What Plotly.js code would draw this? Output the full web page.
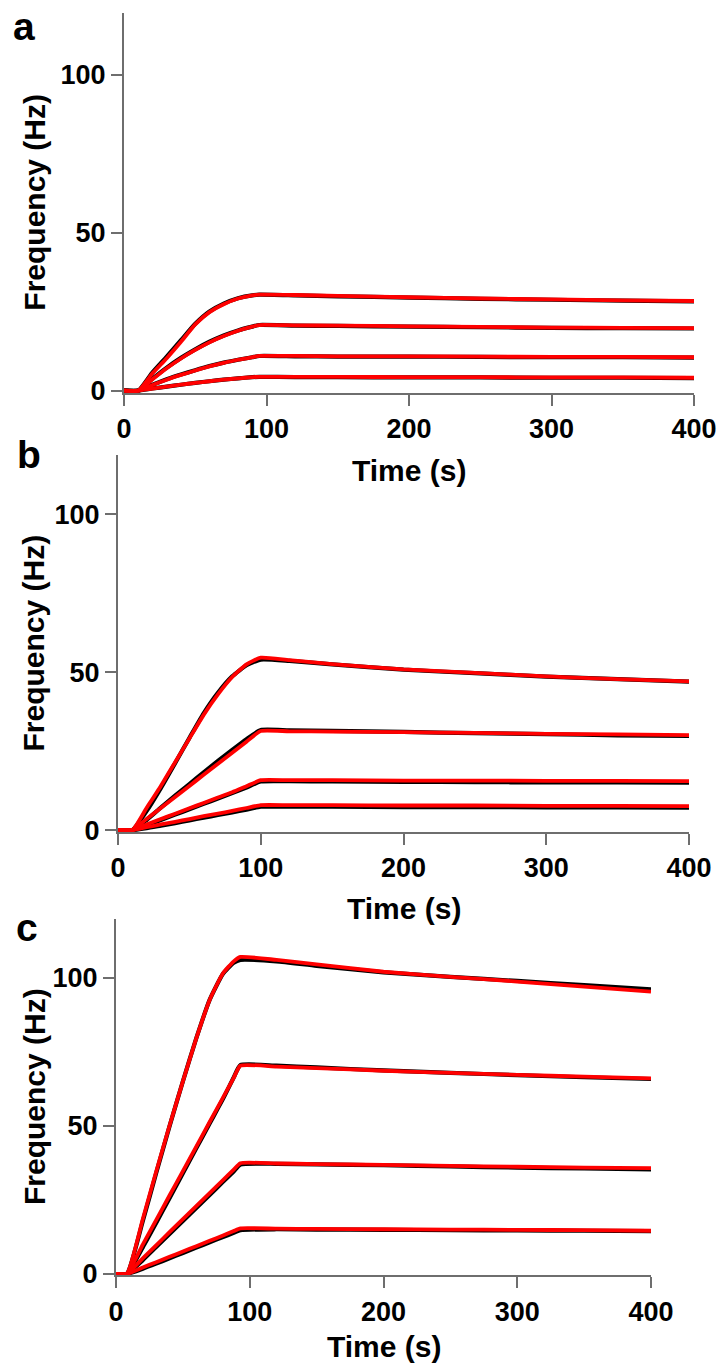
<!DOCTYPE html>
<html>
<head>
<meta charset="utf-8">
<script src="https://cdn.plot.ly/plotly-3.0.1.min.js"></script>
<style>html,body{margin:0;padding:0;background:#fff}#chart{width:727px;height:1370px}</style>
</head>
<body>
<div id="chart"></div>
<script>
// ---- Data ----
const panelLabels = ["a", "b", "c"];
const xTitle = "Time (s)";
const yTitle = "Frequency (Hz)";
const xTicks = [0, 100, 200, 300, 400];
const yTicks = [0, 50, 100];

// Panel a
const timeA = [0, 10, 20, 30, 40, 50, 60, 70, 80, 90, 95, 120, 150, 200, 250, 300, 350, 400];
const aExp1 = [0, 0, 5.8, 10.8, 16.0, 21.2, 25.1, 27.6, 29.3, 30.2, 30.4, 30.2, 29.9, 29.5, 29.1, 28.8, 28.5, 28.3];
const aExp2 = [0, 0, 3.8, 7.3, 10.4, 13.1, 15.5, 17.5, 19.1, 20.3, 20.8, 20.6, 20.5, 20.3, 20.1, 19.9, 19.8, 19.7];
const aExp3 = [0, 0, 1.9, 3.6, 5.1, 6.5, 7.8, 8.9, 9.8, 10.6, 11.0, 10.9, 10.8, 10.8, 10.7, 10.6, 10.6, 10.5];
const aExp4 = [0, 0, 0.7, 1.3, 1.9, 2.5, 3.0, 3.5, 3.9, 4.3, 4.4, 4.3, 4.3, 4.2, 4.2, 4.1, 4.1, 4.0];
const aFit1 = [0, 0, 5.5, 10.3, 15.5, 21.0, 24.9, 27.4, 29.2, 30.2, 30.4, 30.3, 30.0, 29.6, 29.2, 28.9, 28.6, 28.4];
const aFit2 = [0, 0, 3.6, 7.1, 10.2, 12.9, 15.3, 17.3, 19.0, 20.3, 20.8, 20.7, 20.6, 20.4, 20.2, 20.0, 19.9, 19.8];
const aFit3 = [0, 0, 1.8, 3.5, 5.0, 6.4, 7.7, 8.8, 9.8, 10.6, 11.0, 11.0, 10.9, 10.9, 10.8, 10.7, 10.7, 10.6];
const aFit4 = [0, 0, 0.7, 1.3, 1.9, 2.5, 3.0, 3.5, 3.9, 4.3, 4.4, 4.4, 4.4, 4.3, 4.3, 4.2, 4.2, 4.1];

// Panel b
const timeB = [0, 10, 20, 30, 40, 50, 60, 70, 80, 90, 100, 120, 150, 200, 250, 300, 350, 400];
const bExp1 = [0, 0, 6.0, 13.3, 21.2, 29.2, 37.0, 43.5, 48.7, 52.2, 54.0, 53.6, 52.5, 50.8, 49.7, 48.6, 47.8, 47.0];
const bExp2 = [0, 0, 3.2, 7.1, 10.9, 14.6, 18.3, 21.9, 25.4, 28.8, 31.7, 31.6, 31.4, 31.1, 30.7, 30.4, 30.0, 29.8];
const bExp3 = [0, 0, 1.5, 3.2, 4.9, 6.6, 8.3, 10.0, 11.7, 13.5, 15.4, 15.5, 15.4, 15.3, 15.2, 15.1, 15.1, 15.0];
const bExp4 = [0, 0, 0.6, 1.4, 2.2, 3.1, 3.9, 4.8, 5.6, 6.5, 7.4, 7.4, 7.4, 7.3, 7.3, 7.2, 7.2, 7.1];
const bFit1 = [0, 0, 7.0, 14.0, 21.5, 29.0, 36.5, 43.0, 48.5, 52.5, 54.6, 53.8, 52.6, 50.9, 49.8, 48.7, 47.8, 47.1];
const bFit2 = [0, 0, 3.5, 7.0, 10.5, 14.0, 17.5, 21.0, 24.5, 28.0, 31.4, 31.3, 31.2, 31.0, 30.8, 30.5, 30.3, 30.1];
const bFit3 = [0, 0, 1.75, 3.5, 5.2, 6.9, 8.6, 10.3, 12.0, 13.9, 15.8, 15.8, 15.8, 15.7, 15.7, 15.6, 15.6, 15.5];
const bFit4 = [0, 0, 0.9, 1.8, 2.6, 3.5, 4.4, 5.2, 6.1, 7.0, 7.9, 7.9, 7.9, 7.8, 7.8, 7.7, 7.7, 7.6];

// Panel c
const timeC = [0, 8, 20, 30, 40, 50, 60, 70, 80, 88, 93, 120, 150, 200, 250, 300, 350, 400];
const cExp1 = [0, 0, 17.8, 34.0, 49.8, 65.0, 79.5, 92.5, 101.3, 105.0, 106.0, 105.5, 104.0, 101.8, 100.3, 98.9, 97.5, 96.1];
const cExp2 = [0, 0, 9.0, 17.2, 25.6, 34.0, 42.4, 50.8, 59.1, 66.3, 70.5, 70.3, 69.7, 68.7, 67.9, 67.1, 66.4, 65.8];
const cExp3 = [0, 0, 4.7, 9.1, 13.5, 17.9, 22.3, 26.7, 31.1, 34.6, 36.9, 37.2, 37.0, 36.7, 36.3, 35.9, 35.6, 35.3];
const cExp4 = [0, 0, 1.8, 3.5, 5.3, 7.1, 8.9, 10.7, 12.5, 13.9, 14.8, 15.1, 15.0, 14.9, 14.8, 14.7, 14.6, 14.5];
const cFit1 = [0, 0, 18.5, 34.5, 50.0, 65.0, 79.5, 92.5, 101.5, 105.5, 107.0, 106.0, 104.5, 102.0, 100.3, 98.7, 97.0, 95.3];
const cFit2 = [0, 0, 9.9, 18.2, 26.5, 34.7, 43.0, 51.3, 59.5, 66.2, 70.3, 70.0, 69.5, 68.6, 67.9, 67.2, 66.6, 66.0];
const cFit3 = [0, 0, 5.3, 9.7, 14.1, 18.5, 22.9, 27.3, 31.7, 35.2, 37.4, 37.3, 37.1, 36.8, 36.5, 36.2, 35.9, 35.7];
const cFit4 = [0, 0, 2.2, 4.0, 5.8, 7.6, 9.4, 11.2, 13.0, 14.5, 15.4, 15.3, 15.2, 15.1, 15.0, 14.9, 14.8, 14.6];

// ---- Build traces ----
const panels = [
  {t: timeA, exp: [aExp1, aExp2, aExp3, aExp4], fit: [aFit1, aFit2, aFit3, aFit4]},
  {t: timeB, exp: [bExp1, bExp2, bExp3, bExp4], fit: [bFit1, bFit2, bFit3, bFit4]},
  {t: timeC, exp: [cExp1, cExp2, cExp3, cExp4], fit: [cFit1, cFit2, cFit3, cFit4]}
];
const traces = [];
panels.forEach((p, i) => {
  const xa = i === 0 ? 'x' : 'x' + (i + 1);
  const ya = i === 0 ? 'y' : 'y' + (i + 1);
  p.exp.forEach(v => traces.push({x: p.t, y: v, xaxis: xa, yaxis: ya, type: 'scatter', mode: 'lines',
    line: {color: '#000000', width: 4.2, shape: 'spline', smoothing: 0.5}, hoverinfo: 'skip'}));
  p.fit.forEach(v => traces.push({x: p.t, y: v, xaxis: xa, yaxis: ya, type: 'scatter', mode: 'lines',
    line: {color: '#ff0000', width: 3.8, shape: 'spline', smoothing: 0.5}, hoverinfo: 'skip'}));
});

// ---- Layout ----
const W = 727, H = 1370;
const axisColor = '#6e6e6e';
const tickFont = {family: 'Liberation Sans, Arial, sans-serif', size: 27, color: '#000', weight: 'bold'};
function xax(d0, d1, anchor) {
  return {domain: [d0 / W, d1 / W], range: [0, 400], anchor: anchor, tickvals: xTicks,
    showline: true, linecolor: axisColor, linewidth: 2, ticks: 'outside', ticklen: 11, tickwidth: 2,
    tickcolor: axisColor, showgrid: false, zeroline: false, tickfont: tickFont, fixedrange: true};
}
function yax(top, bottom, r, anchor) {
  return {domain: [1 - bottom / H, 1 - top / H], range: r, anchor: anchor, tickvals: yTicks,
    showline: true, linecolor: axisColor, linewidth: 2, ticks: 'outside', ticklen: 11, tickwidth: 2,
    tickcolor: axisColor, showgrid: false, zeroline: false, tickfont: tickFont, fixedrange: true};
}
const titleFont = {family: 'Liberation Sans, Arial, sans-serif', size: 30, color: '#000', weight: 'bold'};
const letterFont = {family: 'Liberation Sans, Arial, sans-serif', size: 39, color: '#000', weight: 'bold'};
function ann(text, px, py, font, angle) {
  return {text: text, xref: 'paper', yref: 'paper', x: px / W, y: 1 - py / H, xanchor: 'center',
    yanchor: 'middle', showarrow: false, font: font, textangle: angle || 0};
}

const layout = {
  width: W, height: H, margin: {l: 0, r: 0, t: 0, b: 0}, paper_bgcolor: '#fff', plot_bgcolor: '#fff',
  showlegend: false, hovermode: false,
  xaxis: xax(124, 694, 'y'), yaxis: yax(12.7, 392.7, [-0.63, 119.7], 'x'),
  xaxis2: xax(118, 689, 'y2'), yaxis2: yax(455, 832, [-0.6, 118.8], 'x2'),
  xaxis3: xax(116, 651, 'y3'), yaxis3: yax(919, 1275.2, [-0.4, 119.8], 'x3'),
  annotations: [
    ann(panelLabels[0], 24, 27, letterFont), ann(panelLabels[1], 29, 454, letterFont), ann(panelLabels[2], 27, 927, letterFont),
    ann(xTitle, 409, 470, titleFont), ann(xTitle, 403.5, 908, titleFont), ann(xTitle, 383.5, 1346, titleFont),
    ann(yTitle, 35, 202.7, titleFont, -90), ann(yTitle, 33, 643.5, titleFont, -90), ann(yTitle, 34, 1097, titleFont, -90)
  ]
};

Plotly.newPlot('chart', traces, layout, {staticPlot: true, displayModeBar: false});
</script>
</body>
</html>
